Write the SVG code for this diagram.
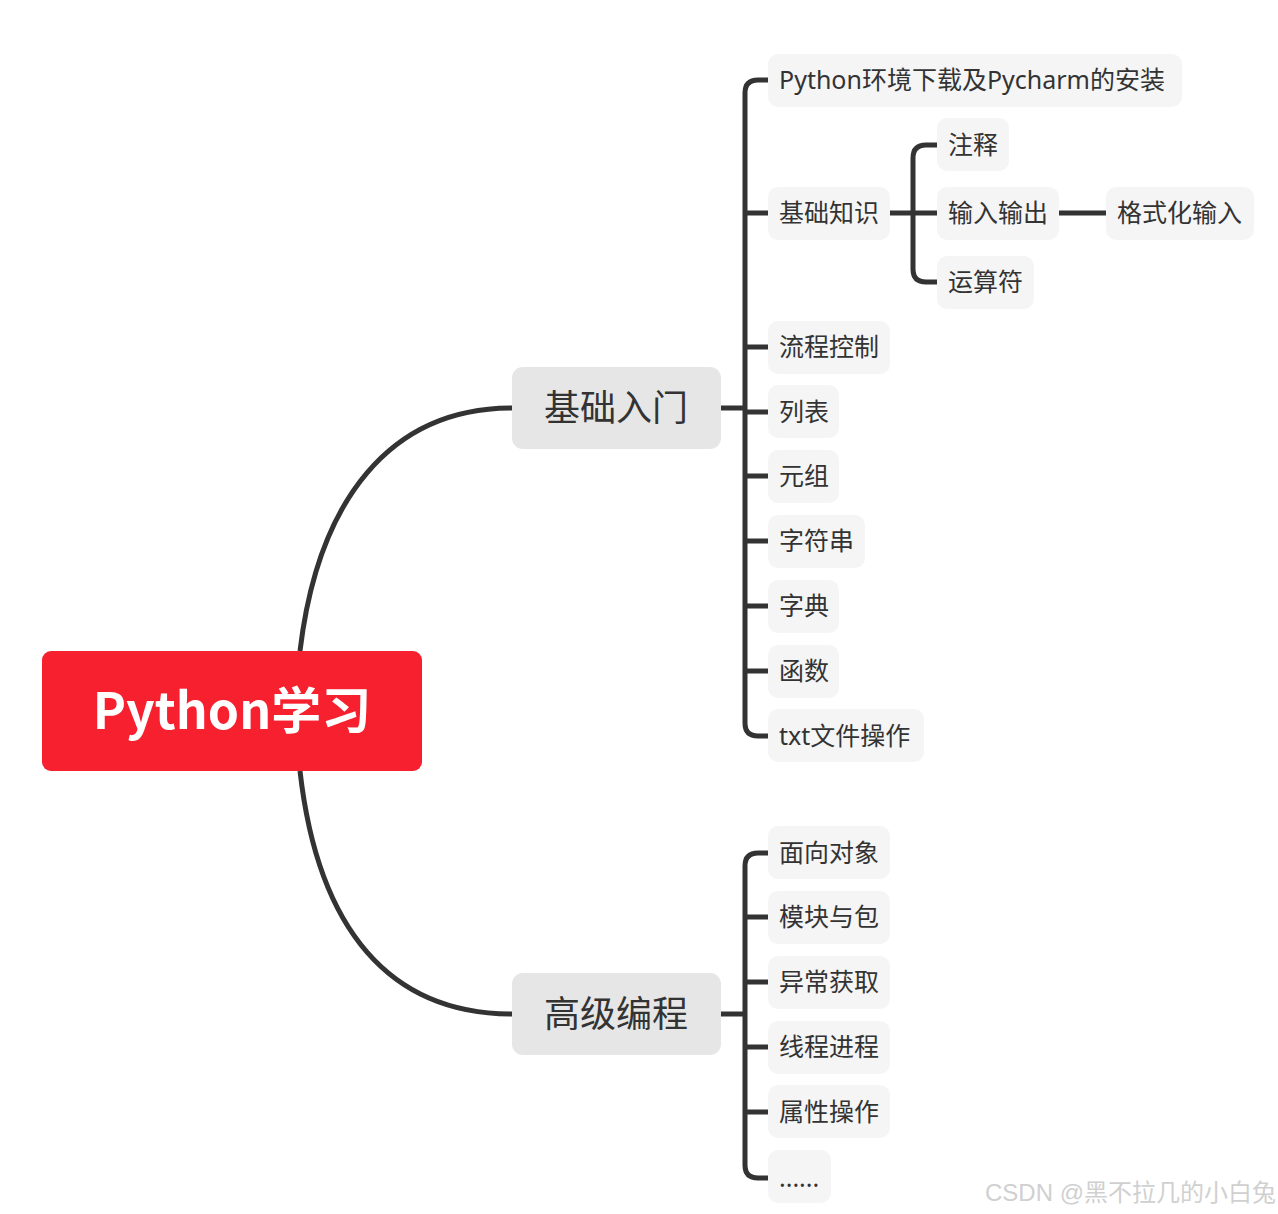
<svg xmlns="http://www.w3.org/2000/svg" width="1278" height="1214" viewBox="0 0 1278 1214">
<style>
.c{fill:none;stroke:#333333;stroke-width:5;stroke-linecap:butt}
.n rect{fill:#F5F5F5}
.n text{font-family:"Noto Sans","Noto Sans CJK SC",sans-serif;font-size:25px;fill:#333333}
.m rect{fill:#E6E6E6}
.m text{font-family:"Noto Sans CJK SC",sans-serif;font-size:36px;fill:#333333;text-anchor:middle}
</style>
<rect width="1278" height="1214" fill="#FFFFFF"/>
<g id="connectors">
<path class="c" d="M300,651 C318,500 390,408 512,408"/>
<path class="c" d="M300,771 C318,930 390,1014 512,1014"/>
<path class="c" d="M720,408 H745"/>
<path class="c" d="M768,80 H758 Q745,80 745,93 V723 Q745,736 758,736 H768"/>
<path class="c" d="M745,213 H768 M745,347 H768 M745,412 H768 M745,476 H768 M745,541 H768 M745,606 H768 M745,671 H768"/>
<path class="c" d="M889,213 H937"/>
<path class="c" d="M937,145 H926 Q913,145 913,158 V269 Q913,282 926,282 H937"/>
<path class="c" d="M1058,213 H1106"/>
<path class="c" d="M720,1014 H745"/>
<path class="c" d="M768,853 H758 Q745,853 745,866 V1165 Q745,1178 758,1178 H768"/>
<path class="c" d="M745,917 H768 M745,982 H768 M745,1047 H768 M745,1112 H768"/>
</g>
<g id="root">
<rect x="42" y="651" width="380" height="120" rx="9" fill="#F7202F"/>
<text x="232" y="729" font-family="Noto Sans CJK SC,sans-serif" font-size="50" font-weight="bold" fill="#FFFFFF" text-anchor="middle">Python学习</text>
</g>
<g id="basic" class="m"><rect x="512" y="367" width="209" height="82" rx="11"/><text x="616" y="421">基础入门</text></g>
<g id="advanced" class="m"><rect x="512" y="973" width="209" height="82" rx="11"/><text x="616" y="1027">高级编程</text></g>
<g id="n-env" class="n"><rect x="768" y="54" width="414" height="53" rx="10"/><text x="779" y="89">Python环境下载及Pycharm的安装</text></g>
<g id="n-jczs" class="n"><rect x="768" y="187" width="122" height="53" rx="10"/><text x="779" y="222">基础知识</text></g>
<g id="n-zs" class="n"><rect x="937" y="118" width="72" height="53" rx="10"/><text x="948" y="154">注释</text></g>
<g id="n-io" class="n"><rect x="937" y="187" width="122" height="53" rx="10"/><text x="948" y="222">输入输出</text></g>
<g id="n-fmt" class="n"><rect x="1106" y="187" width="148" height="53" rx="10"/><text x="1117" y="222">格式化输入</text></g>
<g id="n-ysf" class="n"><rect x="937" y="256" width="97" height="53" rx="10"/><text x="948" y="291">运算符</text></g>
<g id="n-lckz" class="n"><rect x="768" y="321" width="122" height="53" rx="10"/><text x="779" y="356">流程控制</text></g>
<g id="n-lb" class="n"><rect x="768" y="385" width="71" height="53" rx="10"/><text x="779" y="421">列表</text></g>
<g id="n-yz" class="n"><rect x="768" y="450" width="71" height="53" rx="10"/><text x="779" y="485">元组</text></g>
<g id="n-zfc" class="n"><rect x="768" y="515" width="97" height="53" rx="10"/><text x="779" y="550">字符串</text></g>
<g id="n-zd" class="n"><rect x="768" y="580" width="71" height="53" rx="10"/><text x="779" y="615">字典</text></g>
<g id="n-hs" class="n"><rect x="768" y="645" width="71" height="53" rx="10"/><text x="779" y="680">函数</text></g>
<g id="n-txt" class="n"><rect x="768" y="709" width="156" height="53" rx="10"/><text x="779" y="745">txt文件操作</text></g>
<g id="n-mxdx" class="n"><rect x="768" y="826" width="122" height="53" rx="10"/><text x="779" y="862">面向对象</text></g>
<g id="n-mkyb" class="n"><rect x="768" y="891" width="122" height="53" rx="10"/><text x="779" y="926">模块与包</text></g>
<g id="n-ychq" class="n"><rect x="768" y="956" width="122" height="53" rx="10"/><text x="779" y="991">异常获取</text></g>
<g id="n-xcjc" class="n"><rect x="768" y="1021" width="122" height="53" rx="10"/><text x="779" y="1056">线程进程</text></g>
<g id="n-sxcz" class="n"><rect x="768" y="1085" width="122" height="53" rx="10"/><text x="779" y="1121">属性操作</text></g>
<g id="n-more" class="n"><rect x="768" y="1150" width="63" height="53" rx="10"/><text x="779" y="1187" font-size="18">......</text></g>
<text x="985" y="1201" font-family="Liberation Sans,Noto Sans CJK SC,sans-serif" font-size="24" fill="#D0D0D0">CSDN @黑不拉几的小白兔</text>
</svg>
